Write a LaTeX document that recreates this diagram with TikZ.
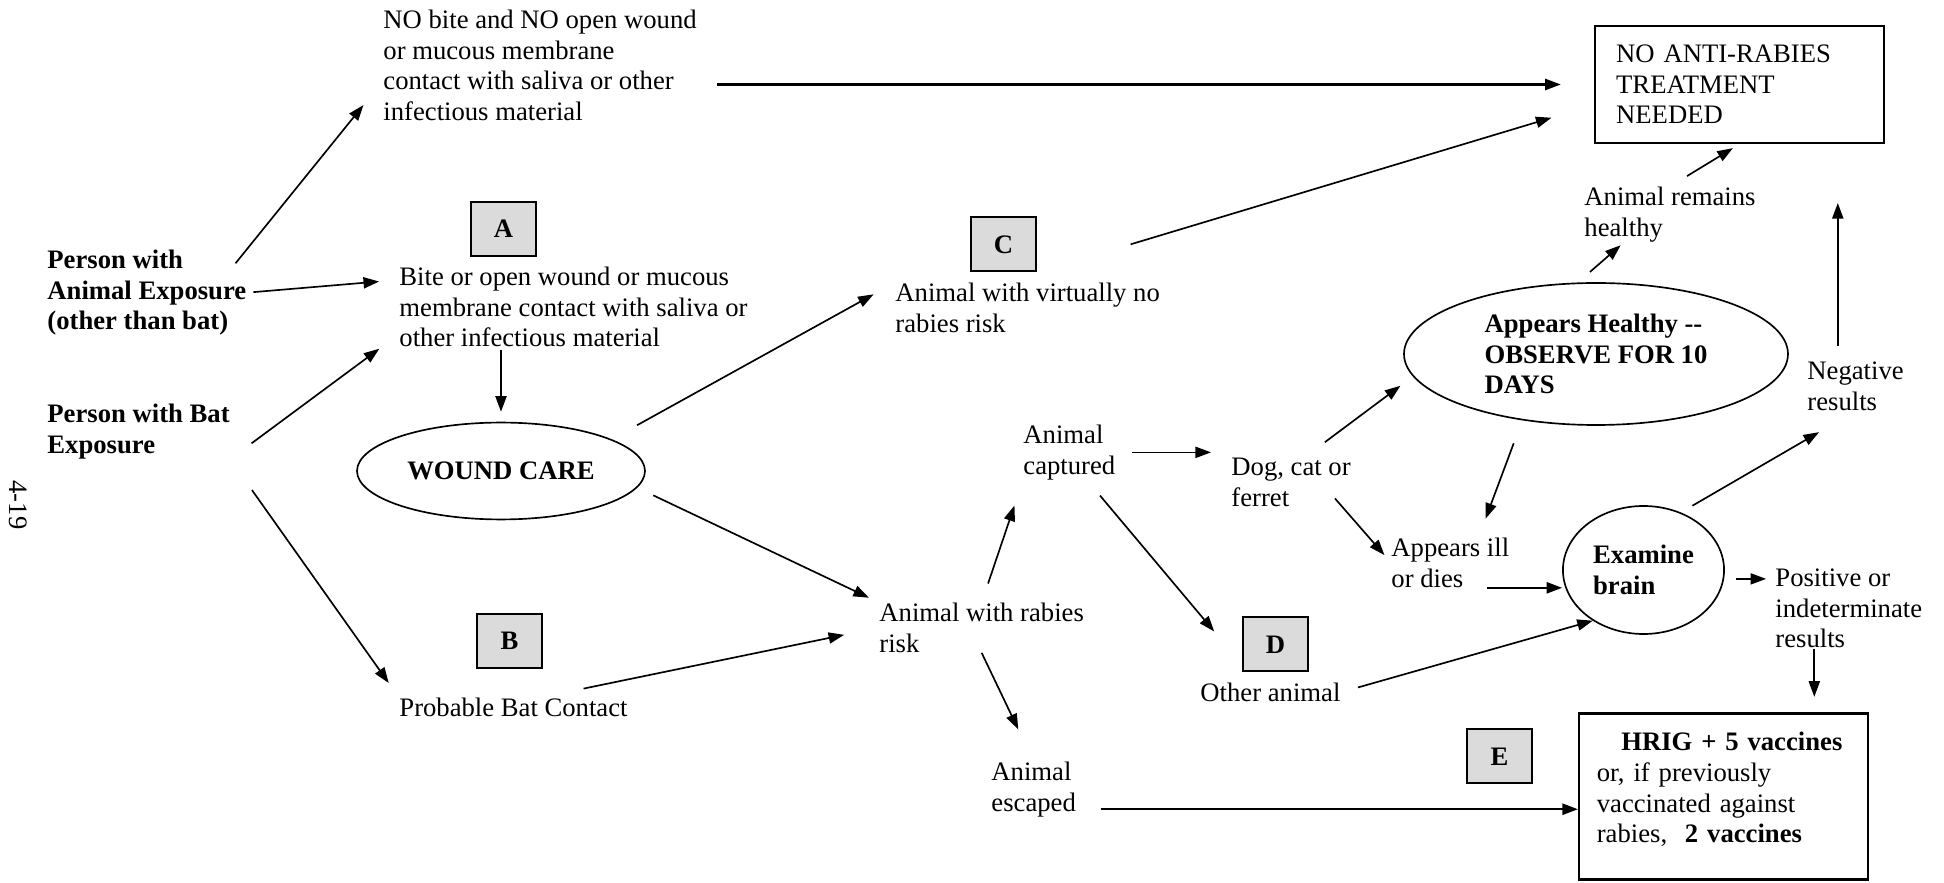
\documentclass[tikz,border=0pt]{standalone}
\usepackage{fontspec}
\setmainfont{Liberation Serif}
\usetikzlibrary{arrows.meta, positioning, shapes.geometric}

\tikzset{
  txt/.style={anchor=north west, inner sep=0pt, align=left, font=\fontsize{12}{13.8}\selectfont},
  txtb/.style={txt, font=\fontsize{12}{13.8}\selectfont\bfseries},
  letterbox/.style={draw, line width=0.9pt, fill=black!14, minimum width=29.25pt, minimum height=24.3pt, inner sep=0pt, font=\fontsize{12}{13.8}\selectfont\bfseries},
  endbox/.style={draw, line width=1pt, inner xsep=9.45pt, inner ysep=7.65pt, text width=111pt, align=left, font=\fontsize{12}{13.8}\selectfont},
  oval/.style={draw, ellipse, line width=0.75pt, inner sep=0pt, align=left, font=\fontsize{12}{13.8}\selectfont\bfseries},
  arr/.style={-{Triangle[length=7pt,width=5pt]}, line width=0.75pt}
}

\begin{document}
\begin{tikzpicture}[x=0.45pt, y=-0.45pt]
  \useasboundingbox (0,0) rectangle (1944,883);

  % Persons with exposure
  \node[txtb] (personA) at (47,249.5) {Person with\\Animal Exposure\\(other than bat)};
  \node[txtb] (personB) at (47,403.5) {Person with Bat\\Exposure};

  % Kind of contact
  \node[txt] (nobite) at (383,9.5) {NO bite and NO open wound\\or mucous membrane\\contact with saliva or other\\infectious material};
  \node[txt] (bite) at (399,266.5) {Bite or open wound or mucous\\membrane contact with saliva or\\other infectious material};
  \node[txt] (batcontact) at (399,697.5) {Probable Bat Contact};
  \node[oval, minimum width=129.6pt, minimum height=43.6pt] (wound) at (501,471) {WOUND CARE};

  % Animal risk
  \node[txt] (norisk) at (895,282.5) {Animal with virtually no\\rabies risk};
  \node[txt] (rabiesrisk) at (879,602.5) {Animal with rabies\\risk};
  \node[txt] (captured) at (1023,424.5) {Animal\\captured};
  \node[txt] (escaped) at (991,761.5) {Animal\\escaped};
  \node[txt] (dog) at (1231,457.5) {Dog, cat or\\ferret};
  \node[txt] (other) at (1200,682.5) {Other animal};

  % Observe and test
  \node[oval, minimum width=172.8pt, minimum height=63.9pt] (healthy) at (1596,354) {Appears Healthy -{}-\\OBSERVE FOR 10\\DAYS};
  \node[txt] (remains) at (1584,186.5) {Animal remains\\healthy};
  \node[txt] (ill) at (1391,537.5) {Appears ill\\or dies};
  \node[oval, minimum width=72.5pt, minimum height=57.6pt] (brain) at (1643.5,570) {Examine\\brain};
  \node[txt] (negative) at (1807,361.5) {Negative\\results};
  \node[txt] (positive) at (1775,568.5) {Positive or\\indeterminate\\results};

  % Outcomes
  \node[endbox, minimum height=52.65pt] (noanti) at (1739.5,84.5) {NO ANTI-RABIES\\TREATMENT\\NEEDED};
  \node[endbox, minimum height=74.25pt, inner xsep=8pt, inner ysep=8.5pt, text width=114pt] (hrig) at (1723.5,796.5) {\hspace*{11pt}\textbf{HRIG + 5 vaccines}\\or, if previously\\vaccinated against\\rabies,\ \ \textbf{2 vaccines}\rule[-8pt]{0pt}{1pt}};

  % Letter boxes
  \foreach \lab/\x/\y in {A/503.5/229, B/509.5/641, C/1003.5/244.5, D/1275.5/644.5, E/1499.5/756.5} {
    \node[letterbox] (box\lab) at (\x,\y) {\lab};
  }

  % Page number
  \node[txt, anchor=center, rotate=-90] (page) at (18,505) {4-19};

  % Arrows from the persons
  \draw[arr, shorten <=-8pt, shorten >=14pt] (personA.north east) -- ([yshift=-7pt]nobite.west);
  \draw[arr, shorten <=3pt, shorten >=9pt] (personA.east) -- ([yshift=-6pt]bite.north west);
  \draw[arr, shorten <=12pt, shorten >=11pt] (personB.south east) -- ([yshift=6pt]bite.south west);
  \draw[arr, shorten <=17pt, shorten >=8pt] (personB.south east) -- (batcontact.north west);

  % Wound care and risk
  \draw[arr, shorten <=1pt, shorten >=4.5pt] (bite.south -| wound.north) -- (wound.north);
  \draw[arr, shorten <=13pt, shorten >=11pt] (wound.16) -- (norisk.north west);
  \draw[arr, shorten <=8pt, shorten >=5pt] (wound.-7) -- (rabiesrisk.north west);
  \draw[arr, shorten >=16pt] ([xshift=-20pt,yshift=4pt]batcontact.north east) -- (rabiesrisk.west);

  % No treatment
  \draw[arr, line width=1pt, shorten <=9pt, shorten >=15pt] (nobite.east |- noanti.west) -- (noanti.west);
  \draw[arr, shorten <=44pt, shorten >=20pt] (boxC.south east) -- (noanti.188);

  % Animal with rabies risk
  \draw[arr, shorten <=9pt, shorten >=12pt] (rabiesrisk.north) -- (captured.south west);
  \draw[arr, shorten >=16pt] (rabiesrisk.south) -- (escaped.north);
  \draw[arr, shorten <=7.5pt, shorten >=9pt] (captured.east) -- (captured.east -| dog.west);
  \draw[arr, shorten <=9pt, shorten >=30pt] ([xshift=8pt]captured.south) -- ([xshift=-6pt]other.north);

  % Dog, cat or ferret
  \draw[arr, shorten <=11.5pt, shorten >=7pt] ([xshift=6pt]dog.north) -- (healthy.187);
  \draw[arr, shorten <=-5pt, shorten >=4.5pt] ([xshift=-4pt]dog.south east) -- (ill.west);
  \draw[arr, shorten <=7pt, shorten >=2pt] ([xshift=-8pt]healthy.north) -- ([xshift=18pt]remains.south west);
  \draw[arr, shorten <=9pt, shorten >=3.5pt] (remains.north) -- (noanti.south);
  \draw[arr, shorten <=11pt, shorten >=9pt] (healthy.222) -- ([xshift=-14pt]ill.north east);

  % Brain test
  \draw[arr, line width=1pt, shorten <=-10pt] (ill.south east) -- (ill.south east -| brain.west);
  \draw[arr, shorten <=8pt] (other.east) -- (brain.225);
  \draw[arr, shorten <=6pt, shorten >=19pt] (brain.57) -- (negative.south);
  \draw[arr, shorten <=7pt, shorten >=26.5pt] ([xshift=-8pt]negative.north) -- ([xshift=-8pt]negative.north |- noanti.south);
  \draw[arr, shorten <=5pt, shorten >=4pt] ([yshift=-4pt]brain.east) -- ([yshift=-4pt]brain.east -| positive.west);
  \draw[arr, shorten >=7pt] ([xshift=-15.5pt]positive.south) -- ([xshift=-15.5pt]positive.south |- hrig.north);
  \draw[arr, line width=1pt, shorten <=11pt] ([yshift=3.6pt]escaped.south east) -- ([yshift=3.6pt]escaped.south east -| hrig.west);
\end{tikzpicture}
\end{document}
